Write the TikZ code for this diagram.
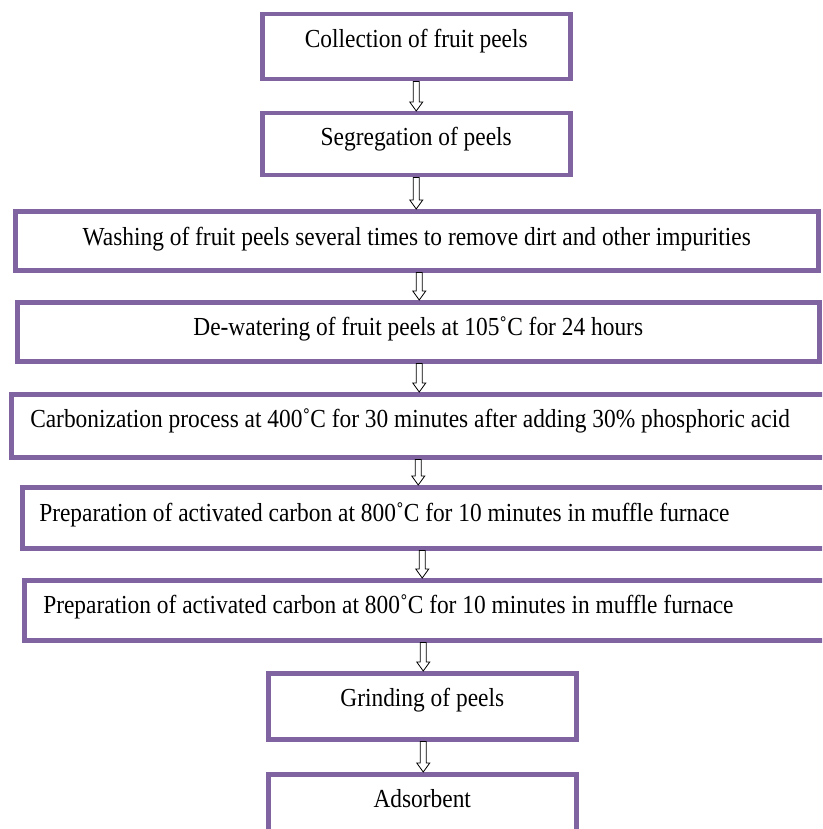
\documentclass[tikz,border=0pt]{standalone}
\usepackage{fontspec}
\setmainfont{Liberation Serif}[FakeStretch=0.9]
\usetikzlibrary{calc}
\definecolor{boxpurple}{HTML}{8064A2}
\begin{document}
\begin{tikzpicture}[x=1pt,y=-1pt,
  stepbox/.style={draw=boxpurple, line width=4.5pt, rectangle, fill=white,
    inner xsep=0pt, inner ysep=0pt, anchor=north west,
    font=\fontsize{26}{30}\selectfont},
  hollowarrow/.style={draw=black, line width=0.8pt, fill=white,
    to path={let \p1=(\tikztostart), \p2=(\tikztotarget) in
      (\x1-3pt,\y1) -- (\x1-3pt,\y2+9pt) -- (\x1-6.5pt,\y2+9pt) -- (\x1,\y2)
      -- (\x1+6.5pt,\y2+9pt) -- (\x1+3pt,\y2+9pt) -- (\x1+3pt,\y1) -- cycle}}]
\useasboundingbox (0,0) rectangle (822,829);
\clip (0,0) rectangle (822,829);
\node[stepbox, minimum width=308pt, text height=33pt, text depth=32pt] (b1) at (260,12) {Collection of fruit peels};
\node[stepbox, minimum width=308pt, text height=32pt, text depth=30pt] (b2) at (260,111) {Segregation of peels};
\node[stepbox, minimum width=803pt, text height=34pt, text depth=25pt] (b3) at (13,209) {Washing of fruit peels several times to remove dirt and other impurities};
\node[stepbox, minimum width=802pt, text height=33pt, text depth=26pt] (b4) at (15,300) {De-watering of fruit peels at 105˚C for 24 hours};
\node[stepbox, inner xsep=19pt, text height=33pt, text depth=30pt] (b5) at (9,392) {\makebox[793pt][l]{Carbonization process at 400˚C for 30 minutes after adding 30\% phosphoric acid}};
\node[stepbox, inner xsep=17pt, text height=34pt, text depth=27pt] (b6) at (20,485) {\makebox[786pt][l]{Preparation of activated carbon at 800˚C for 10 minutes in muffle furnace}};
\node[stepbox, inner xsep=19pt, text height=33pt, text depth=27pt] (b7) at (22,578) {\makebox[780pt][l]{Preparation of activated carbon at 800˚C for 10 minutes in muffle furnace}};
\node[stepbox, minimum width=308pt, text height=33pt, text depth=33pt] (b8) at (266,671) {Grinding of peels};
\node[stepbox, minimum width=308pt, text height=33pt, text depth=45pt] (b9) at (266,772) {Adsorbent};
\draw[hollowarrow] (b1.south) to (b2.north);
\draw[hollowarrow] (b2.south) to (b3.north);
\draw[hollowarrow] ([xshift=2.5pt]b3.south) to (b4.north);
\draw[hollowarrow] ([xshift=1pt]b4.south) to (b5.north);
\draw[hollowarrow] ([xshift=-8.5pt]b5.south) to (b6.north);
\draw[hollowarrow] ([xshift=-10pt]b6.south) to (b7.north);
\draw[hollowarrow] ([xshift=-10pt]b7.south) to (b8.north);
\draw[hollowarrow] ([xshift=1pt]b8.south) to (b9.north);
\end{tikzpicture}
\end{document}
